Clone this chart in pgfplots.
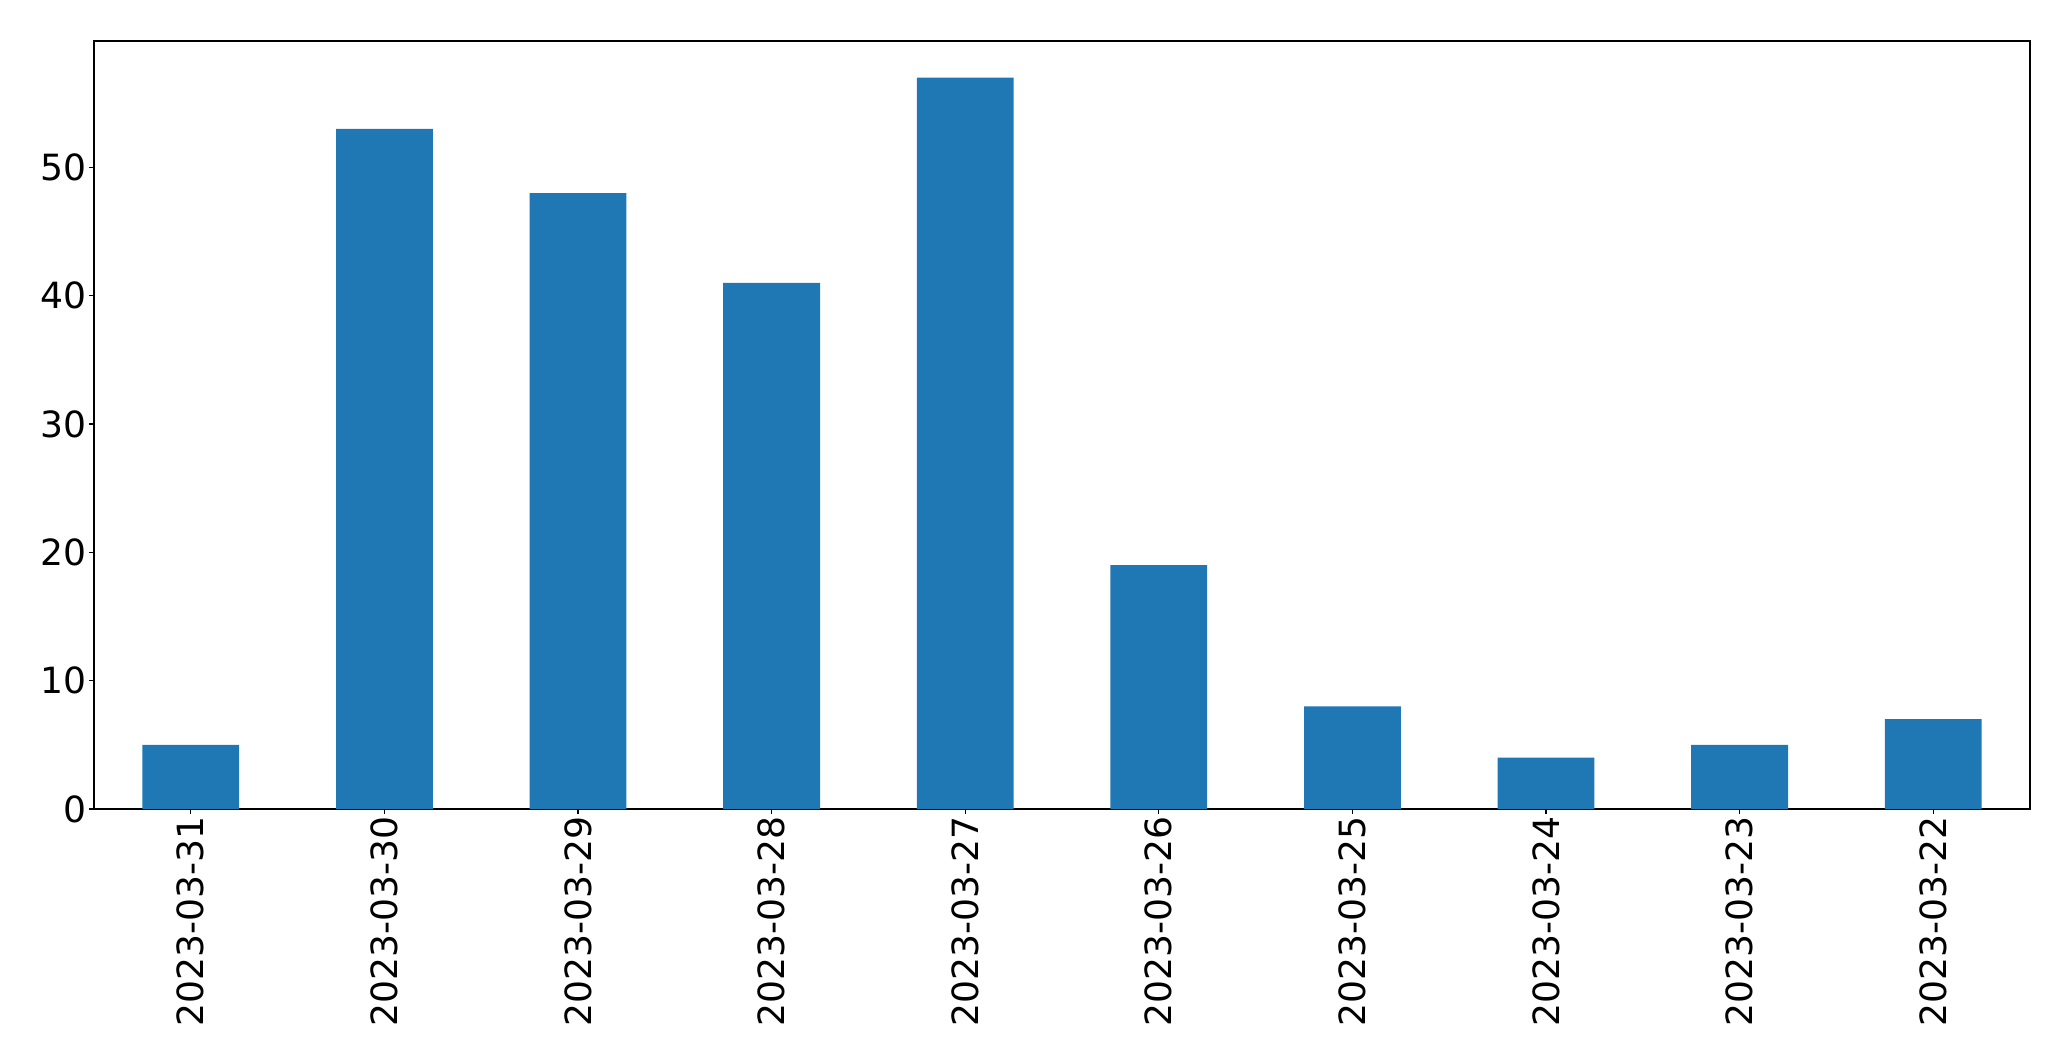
\documentclass[border=0pt]{standalone}
\usepackage{fontspec}
\setmainfont{DejaVu Sans}
\usepackage{pgfplots}
\pgfplotsset{compat=1.18}
\definecolor{mplblue}{HTML}{1F77B4}
\begin{document}
\begin{tikzpicture}
\useasboundingbox (-67.7pt,-181.4pt) rectangle (1423.4pt,582.5pt);
\begin{axis}[
    at={(0,0)}, anchor=south west,
    scale only axis,
    width=1393.9pt, height=553pt,
    xmin=-0.5, xmax=9.5,
    ymin=0, ymax=59.85,
    axis line style={line width=0.8pt},
    tick align=outside,
    xtick pos=bottom, ytick pos=left,
    major tick length=3.5pt,
    every tick/.style={line width=0.8pt, black},
    ytick={0,10,20,30,40,50},
    xtick={0,...,9},
    xticklabels={2023-03-31,2023-03-30,2023-03-29,2023-03-28,2023-03-27,2023-03-26,2023-03-25,2023-03-24,2023-03-23,2023-03-22},
    ticklabel style={font=\fontsize{26}{31}\selectfont},
    x tick label style={rotate=90, anchor=east, inner sep=2pt},
    y tick label style={inner sep=2pt},
    /pgf/number format/assume math mode=true,
    scaled y ticks=false,
]
\addplot[ybar, bar width=0.5, fill=mplblue, draw=none] coordinates {
    (0,5) (1,53) (2,48) (3,41) (4,57) (5,19) (6,8) (7,4) (8,5) (9,7)
};
\end{axis}
\end{tikzpicture}
\end{document}
